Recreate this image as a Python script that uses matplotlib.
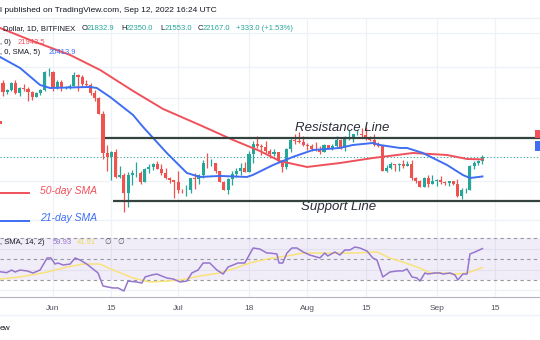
import numpy as np
import pandas as pd
import matplotlib
matplotlib.use("Agg")
import matplotlib.pyplot as plt
from matplotlib.ticker import FixedLocator, NullLocator
from matplotlib.lines import Line2D
from matplotlib.patches import Rectangle

plt.rcParams['font.family'] = ['Liberation Sans', 'DejaVu Sans']

# daily candles, 2022-05-19 .. 2022-09-12
start = pd.Timestamp("2022-05-19")
opens = [28700, 30300, 29200, 29450, 30300, 29100, 29650, 29550, 29200, 28600, 29000, 29450, 31750,
         31800, 29800, 30450, 29700, 29850, 29900, 31350, 31100, 30200, 30100, 29100, 28400, 26600, 22500,
         22150, 22600, 20400, 20500, 19000, 20550, 20700, 20750, 19950, 21100, 21250, 21500, 21050, 20750,
         20300, 20100,
         19950, 19300, 19250, 19300, 20250, 20200, 20550, 21650, 21600, 21600, 20850, 19950, 19300, 20200,
         20600, 20850, 21200, 20800, 22450, 23400, 23250, 23150, 22700, 22450, 22600, 21800, 21250, 22950,
         23850, 23750, 23650,
         23300, 23250, 22950, 22850, 22600, 23300, 22950, 23200, 23800, 23150, 23950, 23950, 24400, 24450,
         24300, 24100, 23850, 23350, 23200, 20850, 21150, 21500, 21400, 21550, 21350, 21550, 20250, 20050,
         19550, 20300, 19800,
         20050, 20150, 19950, 19850, 20000, 19800, 18800, 19300, 19300, 21350, 21650, 21832.9]
highs = [30500, 30700, 29600, 30450, 30650, 29800, 30200, 29850, 29350, 29200, 29500, 31950, 32250,
         31950, 30650, 30650, 29950, 30150, 31750, 31550, 31300, 30650, 30350, 29400, 28550, 26900, 23300,
         22750, 22950, 21350, 20750, 20800, 21000, 21700, 20850, 21200, 21500, 21600, 21800, 21500, 21200,
         20400, 20150,
         20900, 19400, 19650, 20300, 20700, 20650, 21850, 22500, 21950, 21650, 20900, 20050, 20250, 20900,
         21200, 21600, 21700, 22750, 23750, 24250, 23450, 23750, 22900, 22950, 22650, 21850, 23050, 24150,
         24400, 24650, 24200,
         23500, 23450, 23600, 23200, 23450, 23350, 23400, 24200, 23950, 24200, 24900, 24450, 24900, 25050,
         25200, 24250, 24450, 23600, 23200, 21400, 21700, 21550, 21650, 21850, 21800, 21850, 20350, 20150,
         20400, 20550, 20500,
         20200, 20450, 20050, 20000, 20050, 20200, 19450, 19450, 21400, 21800, 21850, 22350]
lows = [28650, 28750, 28950, 29250, 28900, 28650, 29350, 28050, 28250, 28550, 28800, 29300, 31200,
        29350, 29600, 29300, 29500, 29500, 29900, 29250, 29850, 29950, 28850, 28100, 26600, 21950, 20850,
        20100, 20250, 20300, 17600, 17950, 19650, 20400, 19800, 19900, 20750, 20950, 21050, 20550, 20200,
        19850, 18650,
        19000, 19000, 18800, 19050, 19350, 19800, 20250, 21200, 21350, 20700, 19900, 19250, 18950, 19650,
        20400, 20500, 20800, 20800, 21600, 23000, 22350, 22500, 22100, 22300, 21700, 20800, 21050, 22600,
        23450, 23550, 23250,
        22850, 22700, 22700, 22450, 22600, 22900, 22850, 23150, 22900, 22700, 23850, 23600, 24300, 24150,
        23800, 23700, 23200, 23100, 20850, 20800, 21100, 20900, 20900, 21150, 21300, 20150, 19850, 19550,
        19550, 19550, 19800,
        19600, 19800, 19650, 19600, 19650, 18750, 18550, 19050, 19300, 21100, 21400, 21553]
closes = [30300, 29200, 29450, 30300, 29100, 29650, 29550, 29200, 28600, 29000, 29450, 31750, 31800,
          29800, 30450, 29700, 29850, 29900, 31350, 31100, 30200, 30100, 29100, 28400, 26600, 22500, 22150,
          22600, 20400, 20500, 19000, 20550, 20700, 20750, 19950, 21100, 21250, 21500, 21050, 20750, 20300,
          20100, 19950,
          19300, 19250, 19300, 20250, 20200, 20550, 21650, 21600, 21600, 20850, 19950, 19300, 20200, 20600,
          20850, 21200, 20800, 22450, 23400, 23250, 23150, 22700, 22450, 22600, 21800, 21250, 22950, 23850,
          23750, 23650, 23300,
          23250, 22950, 22850, 22600, 23300, 22950, 23200, 23800, 23150, 23950, 23950, 24400, 24450, 24300,
          24100, 23850, 23350, 23200, 20850, 21150, 21500, 21400, 21550, 21350, 21550, 20250, 20050, 19550,
          20300, 19800, 20050,
          20150, 19950, 19850, 20000, 19800, 18800, 19300, 19300, 21350, 21650, 21832.9, 22167]

# moving averages (day offset from start, price)
ma50_days = [0.3, 7.5, 17.1, 24.3, 32.2, 39.4, 48.2, 56.2, 62.6, 67.4, 73.9, 81.8, 89.7, 99.3, 107.5, 112.3, 116]
ma50_vals = [38260, 36360, 34130, 32030, 29310, 27160, 25380, 23820, 22740, 21790, 21250, 21610, 22070,
             22545, 22355, 21980, 21943.5]
ma21_days = [0.3, 5.1, 9.9, 12.3, 21.9, 23.5, 26.7, 32.2, 34.6, 40.3, 45.1, 48.2, 53.0, 59.5, 60.9, 65.8,
             70.5, 75.3, 81.8, 84.9, 89.7, 91.4, 96.2, 97.9, 101.7, 107.5, 111.3, 113, 116]
ma21_vals = [33840, 32300, 30060, 29680, 29810, 29680, 28570, 26480, 25170, 22545, 20720, 20370, 20460,
             20370, 20540, 21430, 22167, 22830, 23030, 23320, 23520, 23320, 23030, 23030, 22545, 21430,
             20540, 20280, 20413.9]

rsi_days = [0.3, 1.9, 3.1, 3.9, 5.1, 6.8, 8.2, 9.9, 11.6, 12.5, 13.5, 14.2, 15.4, 17.1, 18.3, 19.5, 21.1,
            22.6, 23.8, 25, 26.2, 27.4, 28.6, 30, 31, 33.1, 34.3, 35.1, 36.7, 37.9, 40.3, 41.8, 43.5, 45.1,
            46.3, 47.8, 49, 50.6, 52.3, 53.8, 55, 56.2, 57.4, 59, 59.8, 61, 62.6, 64.3, 65, 66.7, 67.2, 68.1,
            69.1, 70.3, 71.5, 73, 74.6, 77, 78.2, 78.9, 80.6, 81.8, 83, 84.2, 85.4, 86.6, 88.3, 89.7, 90.7,
            92.1, 93.8, 95.5, 96.9, 97.9, 99.1, 100.3, 101, 102.2, 102.9, 104.6, 105.8, 106.5, 108.2, 109.4,
            110.1, 111.3, 112.3, 113, 114.2, 116]
rsi_vals = [37.9, 37.0, 39.5, 37.6, 39.5, 38.6, 36.7, 39.5, 51, 51, 45.2, 46.2, 44.3, 45.2, 51, 49, 45.2,
            40.5, 36.7, 24.3, 23.3, 22.4, 22.4, 19.5, 29, 28.1, 27.1, 32.9, 34.8, 35.7, 31.9, 31, 28.1, 29,
            36.7, 39.5, 46.2, 46.2, 39.5, 35.7, 42.4, 44.3, 46.2, 46.2, 51.9, 60.5, 59.5, 55.7, 55.7, 54.8,
            46.2, 46.2, 55.7, 60.5, 60.5, 56.7, 53.8, 51, 55.7, 52.9, 56.7, 53.8, 58.6, 58.6, 61.4, 60.5,
            57.6, 51, 49, 32.9, 37.6, 38.6, 38.6, 40.5, 32.9, 31.9, 29, 36.7, 35.7, 36.7, 36.7, 35.7, 36.7,
            34.8, 30, 35.7, 35.7, 54.8, 56.7, 59.93]
rsi_ma_days = [0.3, 5.1, 11.6, 16.4, 20.2, 24.3, 27.4, 32.2, 36.2, 40.3, 43.5, 48.2, 53, 56.2, 60.2, 64.3,
               69.1, 73, 77, 81.1, 84.9, 90.7, 93.8, 96.9, 101, 103.4, 106.5, 109.9, 112.3, 116]
rsi_ma_vals = [31, 32.9, 37.6, 42.4, 45.2, 45.2, 39.5, 31.9, 28.1, 29, 30, 33.8, 36.7, 40.5, 46.2, 50,
               52.9, 55.7, 55.7, 55.7, 55.7, 56.7, 51, 47.1, 41.4, 36.7, 36.7, 35.7, 36.7, 41.91]

resistance = 24000
support = 18400
last_close = 22167

tick_dates = ["2022-06-01", "2022-06-15", "2022-07-01", "2022-07-18",
              "2022-08-01", "2022-08-15", "2022-09-01", "2022-09-15"]
tick_labels = ["Jun", "15", "Jul", "18", "Aug", "15", "Sep", "15"]
price_grid = [17000, 20000, 24000, 28500, 32500, 37500]

GREEN = '#26a69a'
RED = '#ef5350'
MA50 = '#f0505a'
MA21 = '#3f6ef3'
W, H = 540, 340


def fx(px):
    return px / W


def fy(py):
    return 1 - py / H


fig = plt.figure(figsize=(5.4, 3.4), dpi=100)
ax = fig.add_axes([0, fy(229), 1, (229 - 18) / H])
rax = fig.add_axes([0, fy(297), 1, (297 - 229) / H], sharex=ax)

o = np.array(opens, float)
h = np.array(highs, float)
l = np.array(lows, float)
c = np.array(closes, float)
x = np.arange(len(c))
cols = np.where(c >= o, GREEN, RED)

ticks = [(pd.Timestamp(d) - start).days for d in tick_dates]

# price pane
ax.set_yscale('log')
ax.set_ylim(16346, 39907)
ax.set_xlim(0.29, 129.8)
ax.yaxis.set_major_locator(FixedLocator(price_grid))
ax.yaxis.set_minor_locator(NullLocator())
ax.xaxis.set_major_locator(FixedLocator(ticks))
ax.grid(True, color='#eef1f7', lw=0.9)
ax.set_axisbelow(True)
ax.tick_params(left=False, labelleft=False, bottom=False, labelbottom=False)
for s in ax.spines.values():
    s.set_visible(False)

ax.axhline(last_close, color=GREEN, lw=0.8, ls=(0, (1, 2)), zorder=1)
ax.vlines(x, l, h, colors=cols, lw=0.9, zorder=3)
ax.bar(x, np.abs(c - o), bottom=np.minimum(o, c), width=0.74, color=cols, lw=0, zorder=4)
ax.plot(ma50_days, ma50_vals, color=MA50, lw=1.4, zorder=5)
ax.plot(ma21_days, ma21_vals, color=MA21, lw=1.4, zorder=5)

ax.hlines(resistance, 25.5, 129.8, color='#34433e', lw=1.6, zorder=6)
ax.hlines(support, 27.4, 129.8, color='#34433e', lw=1.6, zorder=6)
ax.text(71, 25100, "Resistance Line", style='italic', fontsize=9.5, color='#2a2e39', va='center')
ax.text(72.5, 17940, "Support Line", style='italic', fontsize=9.5, color='#2a2e39', va='center')

# RSI pane
rax.set_ylim(13.8, 78.6)
rax.axhspan(30, 70, color='#7e57c2', alpha=0.1, lw=0)
for lvl in (70, 50, 30):
    rax.axhline(lvl, color='#9598a1', lw=0.8, ls=(0, (3, 3)))
rax.yaxis.set_major_locator(FixedLocator([20, 40, 60]))
rax.grid(True, color='#eef1f7', lw=0.9)
rax.set_axisbelow(True)
rax.plot(rsi_ma_days, rsi_ma_vals, color='#f9e27a', lw=1.1)
rax.plot(rsi_days, rsi_vals, color='#9575cd', lw=1.1)
rax.tick_params(left=False, labelleft=False, length=0, pad=6, labelsize=6, labelcolor='#50535e')
rax.set_xticks(ticks)
rax.set_xticklabels(tick_labels)
for k, s in rax.spines.items():
    s.set_visible(k == 'bottom')
rax.spines['bottom'].set_color('#b2b5be')

# header / legends
fig.text(fx(0), fy(10), "l published on TradingView.com, Sep 12, 2022 16:24 UTC",
         fontsize=6.0, color='#131722', va='center')
fig.add_artist(Line2D([0, 1], [fy(18), fy(18)], color='#eef1f7', lw=1))
fig.add_artist(Line2D([0, 1], [fy(315), fy(315)], color='#eef1f7', lw=1))

LEG = 5.5
fig.text(fx(3), fy(29), "Dollar, 1D, BITFINEX", fontsize=LEG, color='#131722', va='center')
ohlc_labels = ["O", "H", "L", "C"]
ohlc_vals = ["21832.9", "22350.0", "21553.0", "22167.0"]
ohlc_x = [82, 121, 160, 198]
for lab, val, px in zip(ohlc_labels, ohlc_vals, ohlc_x):
    fig.text(fx(px), fy(29), lab, fontsize=LEG, color='#131722', va='center')
    fig.text(fx(px + 4.5), fy(29), val, fontsize=LEG, color=GREEN, va='center')
fig.text(fx(236), fy(29), "+333.0 (+1.53%)", fontsize=LEG, color=GREEN, va='center')

fig.text(fx(0), fy(42), ", 0)", fontsize=LEG, color='#131722', va='center')
fig.text(fx(18), fy(42), "21943.5", fontsize=LEG, color=MA50, va='center')
fig.text(fx(0), fy(53), ", 0, SMA, 5)", fontsize=LEG, color='#131722', va='center')
fig.text(fx(49), fy(53), "20413.9", fontsize=LEG, color=MA21, va='center')

fig.text(fx(0), fy(243), ", SMA, 14, 2)", fontsize=LEG, color='#131722', va='center')
fig.text(fx(53), fy(243), "59.93", fontsize=LEG, color='#9575cd', va='center')
fig.text(fx(77), fy(243), "41.91", fontsize=LEG, color='#f2d95c', va='center')
fig.text(fx(104), fy(243), "\u2205", fontsize=LEG, color='#50535e', va='center')
fig.text(fx(117), fy(243), "\u2205", fontsize=LEG, color='#50535e', va='center')

# annotations for the MAs
fig.add_artist(Line2D([fx(0), fx(29)], [fy(193), fy(193)], color=MA50, lw=1.4))
fig.text(fx(40), fy(191), "50-day SMA", style='italic', fontsize=7.5, color=MA50, va='center')
fig.add_artist(Line2D([fx(0), fx(29)], [fy(221), fy(221)], color=MA21, lw=1.4))
fig.text(fx(40), fy(218), "21-day SMA", style='italic', fontsize=7.5, color=MA21, va='center')

# cut-off price scale tags
fig.add_artist(Rectangle((fx(535), fy(138)), fx(5), 8 / H, color=MA50, lw=0))
fig.add_artist(Rectangle((fx(535), fy(151)), fx(5), 10 / H, color=MA21, lw=0))
fig.add_artist(Rectangle((fx(0), fy(123.5)), fx(2), 2.5 / H, color=RED, lw=0))

fig.text(fx(0), fy(328), "ew", fontsize=6, color='#131722', va='center')

fig.savefig("out.png", dpi=100)
